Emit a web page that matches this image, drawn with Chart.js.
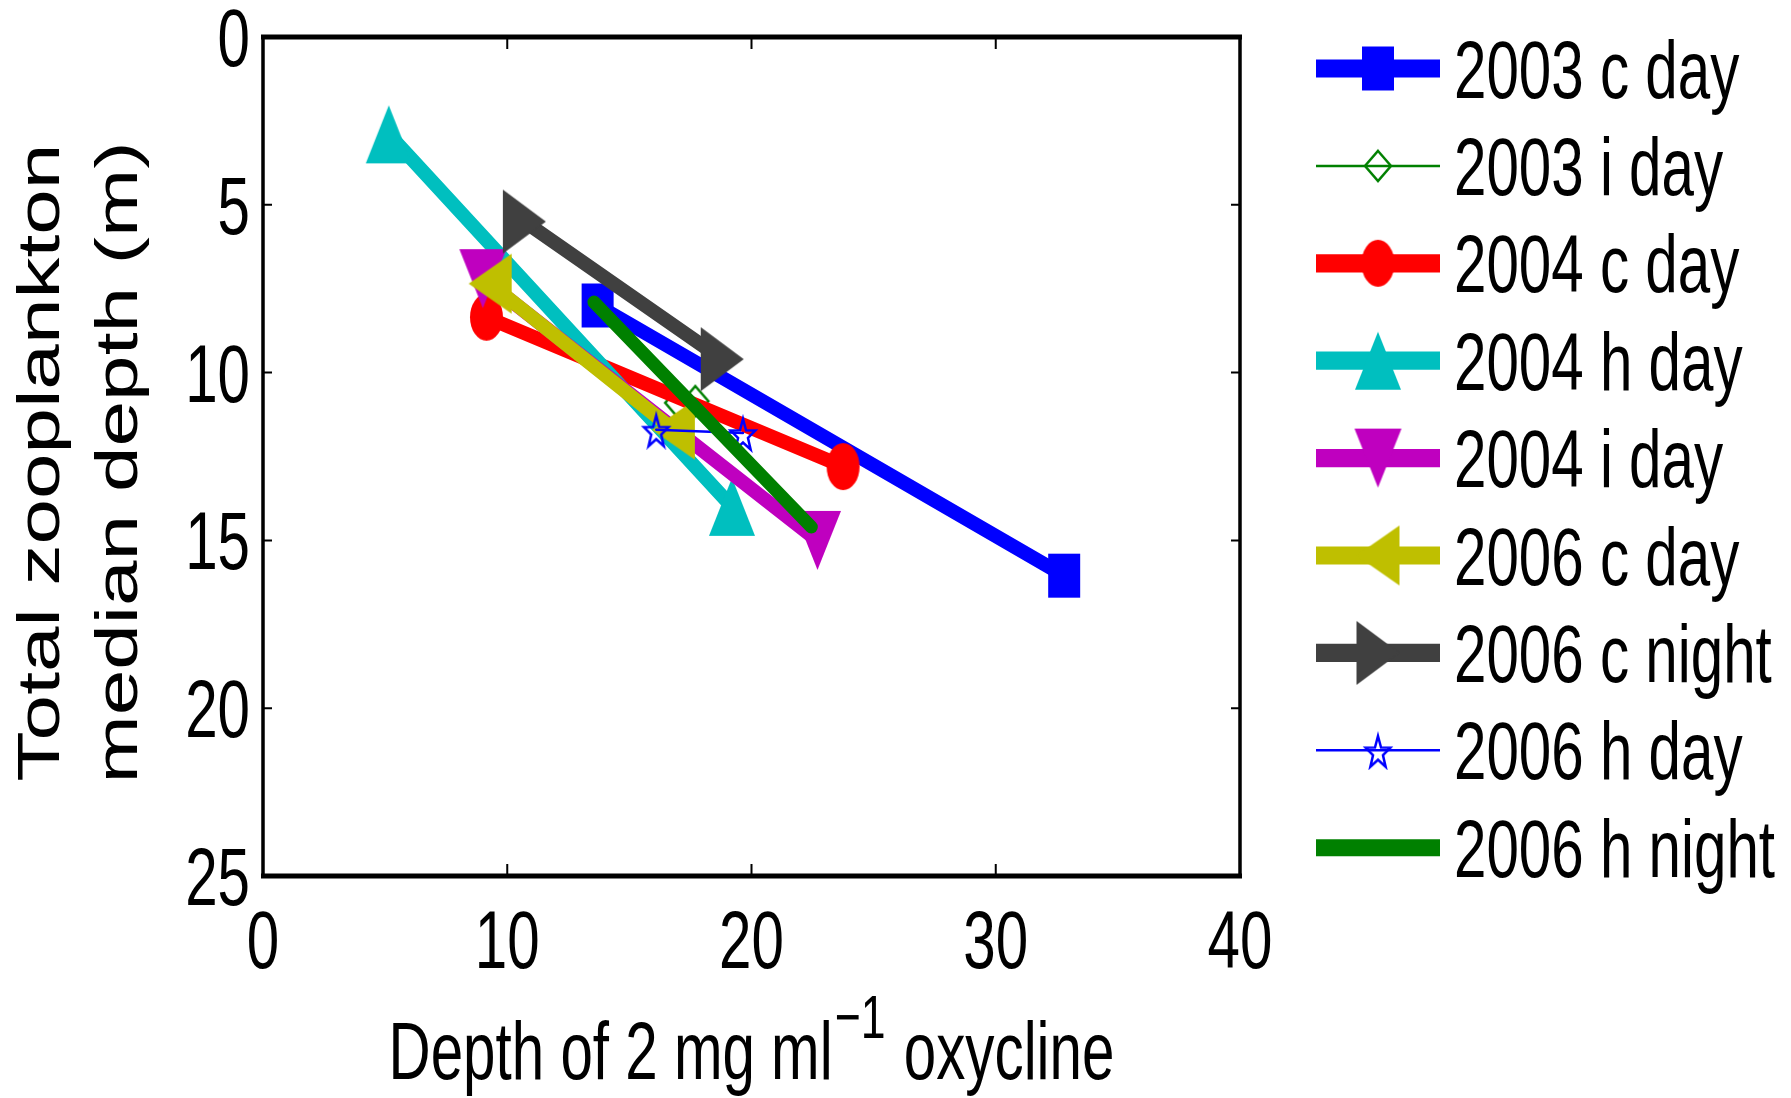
<!DOCTYPE html>
<html>
<head>
<meta charset="utf-8">
<script src="https://cdn.jsdelivr.net/npm/chart.js@4.4.1/dist/chart.umd.min.js"></script>
<style>
  html, body { margin: 0; padding: 0; background: #fff; }
</style>
</head>
<body>
<canvas id="chart" width="1791" height="1098"></canvas>
<script>
// oxycline depth (x) vs zooplankton median depth (y), one pair of casts per series
const seriesNames = [
  '2003 c day', '2003 i day', '2004 c day', '2004 h day', '2004 i day',
  '2006 c day', '2006 c night', '2006 h day', '2006 h night',
];
const oxy2003cDay = [13.7, 32.8];
const zoo2003cDay = [8.0, 16.05];
const oxy2003iDay = [17.0, 17.7];
const zoo2003iDay = [10.9, 10.85];
const oxy2004cDay = [9.15, 23.75];
const zoo2004cDay = [8.35, 12.8];
const oxy2004hDay = [5.15, 19.2];
const zoo2004hDay = [2.9, 14.0];
const oxy2004iDay = [9.0, 22.7];
const zoo2004iDay = [7.2, 15.0];
const oxy2006cDay = [9.3, 16.8];
const zoo2006cDay = [7.35, 11.7];
const oxy2006cNight = [10.7, 18.8];
const zoo2006cNight = [5.5, 9.6];
const oxy2006hDay = [16.1, 19.65];
const zoo2006hDay = [11.7, 11.8];
const oxy2006hNight = [13.55, 22.45];
const zoo2006hNight = [7.9, 14.6];

const xTicks = [0, 10, 20, 30, 40];
const yTicks = [0, 5, 10, 15, 20, 25];
const xTitle = ['Depth of 2 mg ml', '\u22121', ' oxycline'];
const yTitle = ['Total zooplankton', 'median depth (m)'];

const seriesX = [oxy2003cDay, oxy2003iDay, oxy2004cDay, oxy2004hDay, oxy2004iDay,
  oxy2006cDay, oxy2006cNight, oxy2006hDay, oxy2006hNight];
const seriesY = [zoo2003cDay, zoo2003iDay, zoo2004cDay, zoo2004hDay, zoo2004iDay,
  zoo2006cDay, zoo2006cNight, zoo2006hDay, zoo2006hNight];

// line colour, line width, marker shape / size (w, h), filled marker?
const seriesStyle = [
  { color: '#0000ff', lw: 14, shape: 'square', w: 32, h: 44, fill: true },
  { color: '#008000', lw: 2.5, shape: 'diamond', w: 26, h: 30, fill: false },
  { color: '#ff0000', lw: 14, shape: 'circle', w: 33, h: 47, fill: true },
  { color: '#00bfbf', lw: 14, shape: 'up', w: 46, h: 58, fill: true },
  { color: '#bf00bf', lw: 14, shape: 'down', w: 47, h: 59, fill: true },
  { color: '#bfbf00', lw: 14, shape: 'left', w: 43, h: 60, fill: true },
  { color: '#404040', lw: 14, shape: 'right', w: 43, h: 64, fill: true },
  { color: '#0000ff', lw: 2.5, shape: 'star', w: 26, h: 34, fill: false },
  { color: '#008000', lw: 13, shape: null },
];

const FONT = '"Liberation Sans", Arial, Helvetica, sans-serif';
const SQUEEZE = 0.72;

function makeMarker(st) {
  if (!st.shape) return false;
  const pad = 3, w = st.w, h = st.h;
  const c = document.createElement('canvas');
  c.width = Math.ceil(w + pad * 2);
  c.height = Math.ceil(h + pad * 2);
  const g = c.getContext('2d');
  g.translate(pad, pad);
  g.beginPath();
  switch (st.shape) {
    case 'square': g.rect(0, 0, w, h); break;
    case 'circle': g.ellipse(w / 2, h / 2, w / 2, h / 2, 0, 0, Math.PI * 2); break;
    case 'up': g.moveTo(w / 2, 0); g.lineTo(w, h); g.lineTo(0, h); g.closePath(); break;
    case 'down': g.moveTo(0, 0); g.lineTo(w, 0); g.lineTo(w / 2, h); g.closePath(); break;
    case 'left': g.moveTo(0, h / 2); g.lineTo(w, 0); g.lineTo(w, h); g.closePath(); break;
    case 'right': g.moveTo(0, 0); g.lineTo(w, h / 2); g.lineTo(0, h); g.closePath(); break;
    case 'diamond':
      g.moveTo(w / 2, 0); g.lineTo(w, h / 2); g.lineTo(w / 2, h); g.lineTo(0, h / 2); g.closePath();
      break;
    case 'star':
      for (let i = 0; i < 10; i++) {
        const a = -Math.PI / 2 + i * Math.PI / 5;
        const r = i % 2 ? 0.4 : 1;
        const px = w / 2 + Math.cos(a) * r * w / 2;
        const py = h / 2 + 0.08 * h + Math.sin(a) * r * h / 2;
        if (i === 0) g.moveTo(px, py); else g.lineTo(px, py);
      }
      g.closePath();
      break;
  }
  if (st.fill) {
    g.fillStyle = st.color;
    g.fill();
  } else {
    g.strokeStyle = st.color;
    g.lineWidth = st.lw;
    g.lineJoin = 'miter';
    g.stroke();
  }
  return c;
}

const markers = seriesStyle.map(makeMarker);

const datasets = seriesNames.map((name, i) => ({
  label: name,
  data: seriesX[i].map((x, k) => ({ x, y: seriesY[i][k] })),
  showLine: true,
  borderColor: seriesStyle[i].color,
  backgroundColor: seriesStyle[i].color,
  borderWidth: seriesStyle[i].lw,
  borderCapStyle: 'round',
  pointStyle: markers[i],
  pointRadius: markers[i] ? 20 : 0,
  pointHoverRadius: markers[i] ? 20 : 0,
  order: seriesNames.length - i,
}));

function squeezed(ctx, text, x, y, size, align) {
  ctx.save();
  ctx.font = `${size}px ${FONT}`;
  ctx.textAlign = align;
  ctx.textBaseline = 'alphabetic';
  ctx.translate(x, y);
  ctx.scale(SQUEEZE, 1);
  ctx.fillText(text, 0, 0);
  ctx.restore();
}

function squeezedWidth(ctx, text, size) {
  ctx.save();
  ctx.font = `${size}px ${FONT}`;
  const w = ctx.measureText(text).width * SQUEEZE;
  ctx.restore();
  return w;
}

// box, inward ticks, labels, titles and legend drawn the old MATLAB way
const figureDecor = {
  id: 'figureDecor',
  afterDraw(chart) {
    const { ctx, chartArea: a, scales } = chart;
    const xs = scales.x, ys = scales.y;
    ctx.save();
    ctx.fillStyle = '#000';
    ctx.strokeStyle = '#000';

    // tick marks pointing into the axes
    ctx.lineWidth = 2;
    ctx.beginPath();
    xTicks.forEach((v) => {
      const px = xs.getPixelForValue(v);
      ctx.moveTo(px, a.bottom); ctx.lineTo(px, a.bottom - 12);
      ctx.moveTo(px, a.top); ctx.lineTo(px, a.top + 12);
    });
    yTicks.forEach((v) => {
      const py = ys.getPixelForValue(v);
      ctx.moveTo(a.left, py); ctx.lineTo(a.left + 9, py);
      ctx.moveTo(a.right, py); ctx.lineTo(a.right - 9, py);
    });
    ctx.stroke();

    // frame: horizontal edges come out thicker than vertical ones
    ctx.lineWidth = 5;
    ctx.beginPath();
    ctx.moveTo(a.left - 2, a.top); ctx.lineTo(a.right + 2, a.top);
    ctx.moveTo(a.left - 2, a.bottom); ctx.lineTo(a.right + 2, a.bottom);
    ctx.stroke();
    ctx.lineWidth = 3.5;
    ctx.beginPath();
    ctx.moveTo(a.left, a.top); ctx.lineTo(a.left, a.bottom);
    ctx.moveTo(a.right, a.top); ctx.lineTo(a.right, a.bottom);
    ctx.stroke();

    // tick labels
    xTicks.forEach((v) => squeezed(ctx, String(v), xs.getPixelForValue(v), a.bottom + 92, 81, 'center'));
    yTicks.forEach((v) => squeezed(ctx, String(v), a.left - 13, ys.getPixelForValue(v) + 29, 81, 'right'));

    // x title with superscript
    const mainW = squeezedWidth(ctx, xTitle[0], 81);
    const supW = squeezedWidth(ctx, xTitle[1], 62);
    const restW = squeezedWidth(ctx, xTitle[2], 81);
    const total = mainW + supW + 4 + restW;
    let tx = (a.left + a.right) / 2 - total / 2;
    const tBase = a.bottom + 203;
    squeezed(ctx, xTitle[0], tx, tBase, 81, 'left');
    tx += mainW + 2;
    squeezed(ctx, xTitle[1], tx, tBase - 41, 62, 'left');
    tx += supW + 2;
    squeezed(ctx, xTitle[2], tx, tBase, 81, 'left');

    // y title, two rotated lines stretched along their length
    const cy = (a.top + a.bottom) / 2 + 6;
    [59, 137].forEach((bx, i) => {
      ctx.save();
      ctx.font = `59px ${FONT}`;
      ctx.textAlign = 'center';
      ctx.textBaseline = 'alphabetic';
      ctx.translate(bx, cy);
      ctx.rotate(-Math.PI / 2);
      ctx.scale(1 / SQUEEZE, 1);
      ctx.fillText(yTitle[i], 0, 0);
      ctx.restore();
    });

    // legend
    const lx0 = 1316, lx1 = 1440, mx = 1378, textX = 1454;
    chart.data.datasets.forEach((ds, i) => {
      const cyL = 68.5 + i * 97.4;
      const st = seriesStyle[i];
      ctx.save();
      ctx.strokeStyle = st.color;
      ctx.lineWidth = st.lw > 5 ? st.lw * 1.3 : st.lw;
      ctx.beginPath();
      ctx.moveTo(lx0, cyL); ctx.lineTo(lx1, cyL);
      ctx.stroke();
      if (markers[i]) {
        const m = markers[i];
        ctx.drawImage(m, mx - m.width / 2, cyL - m.height / 2);
      }
      ctx.restore();
      squeezed(ctx, ds.label, textX, cyL + 29, 81, 'left');
    });
    ctx.restore();
  },
};

new Chart(document.getElementById('chart'), {
  type: 'scatter',
  data: { datasets },
  options: {
    responsive: false,
    animation: false,
    devicePixelRatio: 1,
    layout: { padding: { left: 0, top: 37, right: 551, bottom: 0 } },
    plugins: {
      legend: { display: false },
      tooltip: { enabled: false },
    },
    scales: {
      x: {
        type: 'linear',
        min: 0,
        max: 40,
        ticks: { display: false, stepSize: 10 },
        grid: { display: false },
        border: { display: false },
        afterFit: (s) => { s.height = 222; },
      },
      y: {
        type: 'linear',
        reverse: true,
        min: 0,
        max: 25,
        ticks: { display: false, stepSize: 5 },
        grid: { display: false },
        border: { display: false },
        afterFit: (s) => { s.width = 263; },
      },
    },
  },
  plugins: [figureDecor],
});
</script>
</body>
</html>
